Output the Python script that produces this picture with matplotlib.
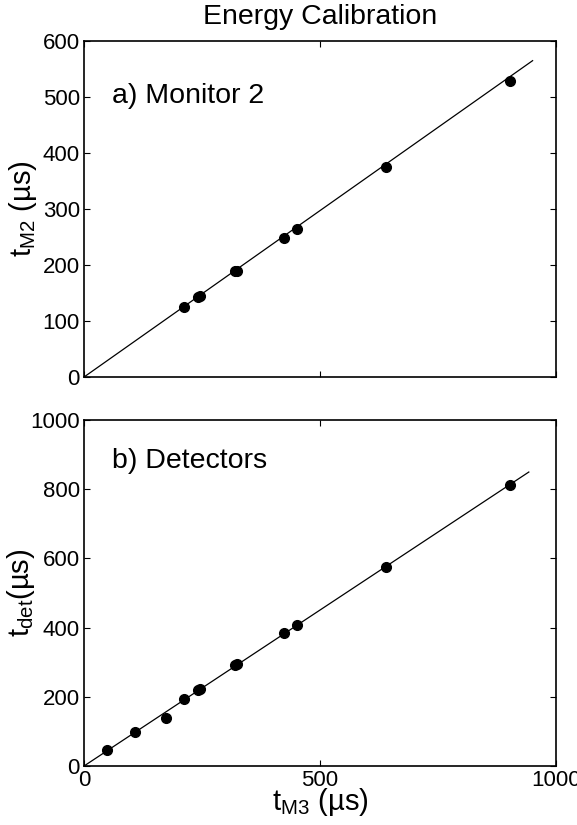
import matplotlib
matplotlib.use('Agg')
import matplotlib.pyplot as plt
import numpy as np

plt.rcParams['font.family'] = ['Liberation Sans', 'DejaVu Sans']
plt.rcParams['mathtext.fontset'] = 'custom'
plt.rcParams['mathtext.rm'] = 'Liberation Sans'
plt.rcParams['mathtext.it'] = 'Liberation Sans'

# Monitor 3 arrival times (us)
t_m3_a = [212, 242, 246, 321, 325, 425, 451, 640, 903]
t_m2 = [125, 143, 144, 189, 190, 248, 265, 375, 528]

t_m3_b = [49, 108, 173, 212, 242, 246, 321, 325, 425, 451, 640, 903]
t_det = [46, 99, 139, 193, 220, 223, 291, 294, 384, 408, 574, 812]

# fitted lines (slope, end of fit range)
slope_a, xend_a = 0.594, 951
slope_b, xend_b = 0.901, 943


def style_axes(ax):
    ax.tick_params(direction='in', top=True, right=True, length=4, width=0.8,
                   labelsize=16, pad=3)
    for s in ax.spines.values():
        s.set_linewidth(1.2)


fig = plt.figure(figsize=(5.77, 8.25), dpi=100)
ax1 = fig.add_axes([0.1456, 0.5430, 0.8175, 0.4073])
ax2 = fig.add_axes([0.1456, 0.0715, 0.8175, 0.4194])

# a) Monitor 2
xf = np.array([0, xend_a])
ax1.plot(xf, slope_a * xf, color='k', lw=0.9)
ax1.plot(t_m3_a, t_m2, 'o', color='k', ms=7)
ax1.set_xlim(0, 1000)
ax1.set_ylim(0, 600)
ax1.set_xticks([0, 500, 1000])
ax1.set_xticklabels([])
ax1.set_yticks(range(0, 601, 100))
ax1.set_ylabel(r'$\mathrm{t_{M2}}$ (µs)', fontsize=21)
ax1.yaxis.set_label_coords(-0.095, 0.5)
ax1.text(0.06, 0.815, 'a) Monitor 2', transform=ax1.transAxes, fontsize=20.5)
ax1.set_title('Energy Calibration', fontsize=20.5, pad=12)
style_axes(ax1)

# b) Detectors
xf = np.array([0, xend_b])
ax2.plot(xf, slope_b * xf, color='k', lw=0.9)
ax2.plot(t_m3_b, t_det, 'o', color='k', ms=7)
ax2.set_xlim(0, 1000)
ax2.set_ylim(0, 1000)
ax2.set_xticks([0, 500, 1000])
ax2.set_yticks(range(0, 1001, 200))
ax2.set_ylabel(r'$\mathrm{t_{det}}$(µs)', fontsize=21)
ax2.yaxis.set_label_coords(-0.1, 0.5)
ax2.set_xlabel(r'$\mathrm{t_{M3}}$ (µs)', fontsize=21, labelpad=-4)
ax2.text(0.06, 0.86, 'b) Detectors', transform=ax2.transAxes, fontsize=20.5)
style_axes(ax2)

fig.savefig('out.png', dpi=100)
